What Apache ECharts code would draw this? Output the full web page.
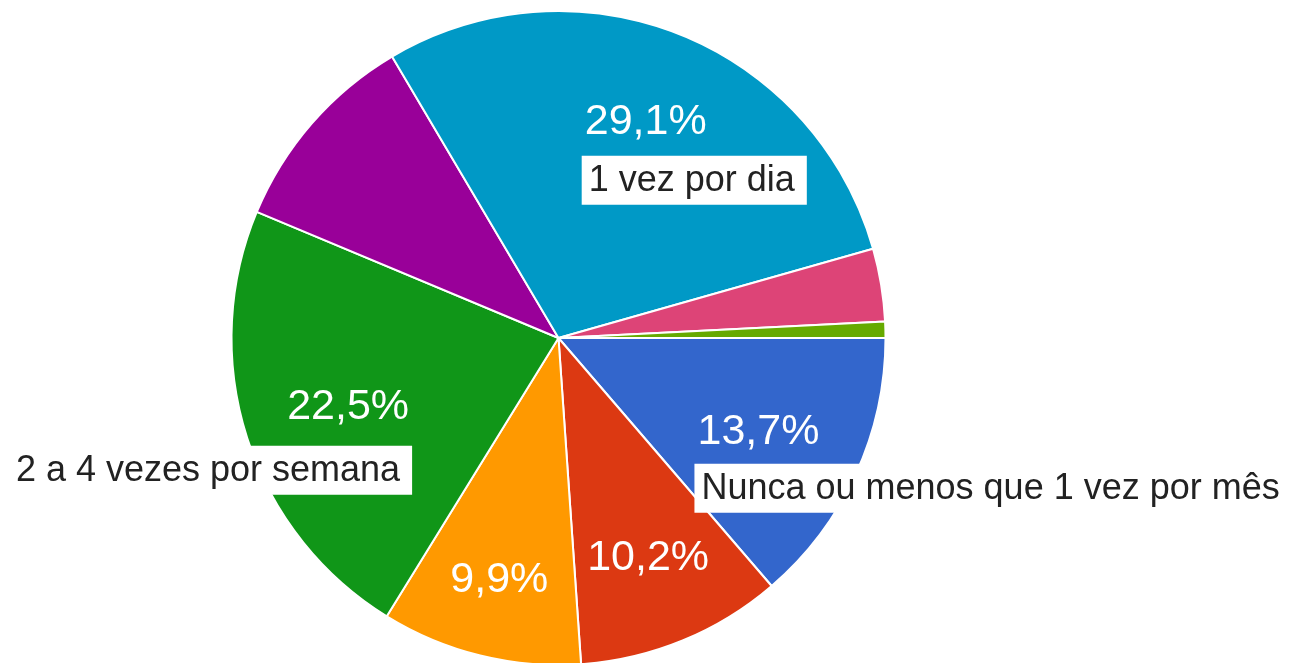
<!DOCTYPE html>
<html>
<head>
<meta charset="utf-8">
<style>
  html, body { margin: 0; padding: 0; background: #ffffff; }
  #chart { width: 1292px; height: 663px; }
</style>
<script src="https://cdn.jsdelivr.net/npm/echarts@6/dist/echarts.min.js"></script>
</head>
<body>
<div id="chart"></div>
<script>
// ---- data ----
const categories = [
  'Nunca ou menos que 1 vez por mês',
  '1 a 3 vezes por mês',
  '1 vez por semana',
  '2 a 4 vezes por semana',
  '5 a 6 vezes por semana',
  '1 vez por dia',
  '2 a 3 vezes por dia',
  '4 ou mais vezes por dia'
];
const values = [13.7, 10.2, 9.9, 22.5, 10.2, 29.1, 3.6, 0.8];

// ---- styles ----
const colors = ['#3366cc', '#dc3912', '#ff9900', '#109618', '#990099', '#0099c6', '#dd4477', '#66aa00'];
const showPct  = [true, true, true, true, false, true, false, false];
const showName = [true, false, false, true, false, true, false, false];
const pctDist  = [220, 236, 247, 221, 230, 235, 230, 230];
const nameSide = ['left', 'left', 'left', 'right', 'left', 'left', 'left', 'left'];
const nameGapY = [32, 34, 34, 38, 34, 34, 34, 34];

const CX = 558.5, CY = 338, R = 327;
const FONT = 'Liberation Sans, Arial, sans-serif';

const total = values.reduce((a, b) => a + b, 0);
function pctCenter(i) {
  let cum = 0;
  for (let k = 0; k < i; k++) cum += values[k];
  const ang = (cum + values[i] / 2) / total * 2 * Math.PI; // clockwise from east
  return [CX + pctDist[i] * Math.cos(ang), CY + pctDist[i] * Math.sin(ang) + 2];
}
function fmtPct(v) { return v.toFixed(1).replace('.', ',') + '%'; }

const pieData = categories.map((c, i) => ({
  name: c,
  value: values[i],
  itemStyle: { color: colors[i] },
  label: { show: showPct[i] }
}));
const nameData = categories.map((c, i) => ({
  name: c,
  value: values[i],
  label: { show: showName[i] }
}));

const chart = echarts.init(document.getElementById('chart'), null, { renderer: 'canvas' });
chart.setOption({
  animation: false,
  backgroundColor: '#ffffff',
  series: [
    {
      type: 'pie',
      center: [CX, CY],
      radius: [0, R],
      startAngle: 0,
      clockwise: true,
      avoidLabelOverlap: false,
      silent: true,
      itemStyle: { borderColor: '#ffffff', borderWidth: 2 },
      label: {
        position: 'inside',
        color: '#ffffff',
        fontSize: 43,
        fontFamily: FONT,
        formatter: p => fmtPct(p.value)
      },
      labelLine: { show: false },
      labelLayout: function (params) {
        const c = pctCenter(params.dataIndex);
        return { x: c[0], y: c[1], align: 'center', verticalAlign: 'middle' };
      },
      data: pieData
    },
    {
      type: 'pie',
      center: [CX, CY],
      radius: [0, R],
      startAngle: 0,
      clockwise: true,
      avoidLabelOverlap: false,
      silent: true,
      z: 5,
      itemStyle: { color: 'rgba(0,0,0,0)', borderWidth: 0 },
      label: {
        position: 'inside',
        color: '#222222',
        fontSize: 36,
        fontFamily: FONT,
        backgroundColor: '#ffffff',
        padding: [4, 12, 3, 7],
        lineHeight: 42,
        formatter: p => p.name
      },
      labelLine: { show: false },
      labelLayout: function (params) {
        const i = params.dataIndex;
        const c = pctCenter(i);
        const side = nameSide[i];
        return {
          x: side === 'left' ? c[0] - 64 : c[0] + 64,
          y: c[1] + nameGapY[i],
          align: side,
          verticalAlign: 'top'
        };
      },
      data: nameData
    }
  ]
});
</script>
</body>
</html>
